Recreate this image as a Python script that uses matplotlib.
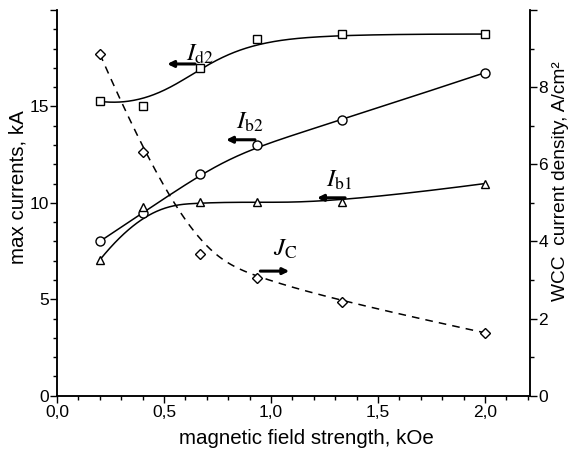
import numpy as np
import matplotlib
matplotlib.use('Agg')
import matplotlib.pyplot as plt
from matplotlib.ticker import MultipleLocator, FuncFormatter

plt.rcParams['font.family'] = ['Liberation Sans', 'DejaVu Sans']
plt.rcParams['mathtext.fontset'] = 'stix'

# data
field = [0.2, 0.4, 0.667, 0.933, 1.333, 2.0]      # kOe
i_d2 = [15.26, 15.0, 17.0, 18.5, 18.75, 18.75]    # kA
i_b2 = [8.0, 9.47, 11.5, 13.0, 14.3, 16.75]       # kA
i_b1 = [7.04, 9.78, 10.03, 10.03, 10.03, 11.0]    # kA
j_c = [8.86, 6.33, 3.67, 3.06, 2.43, 1.63]        # A/cm2


def bspline(x, y, n=300):
    # clamped cubic B-spline with the data points as control points (Origin style line)
    P = np.column_stack([x, y]).astype(float)
    k, p = len(P), 3
    t = np.concatenate([[0] * p, np.arange(k - p + 1), [k - p] * p]).astype(float)
    u = np.linspace(0, k - p, n)
    u[-1] -= 1e-9
    B = ((t[:-1] <= u[:, None]) & (u[:, None] < t[1:])).astype(float)
    for d in range(1, p + 1):
        Bn = np.zeros((n, len(t) - 1 - d))
        for i in range(len(t) - 1 - d):
            if t[i + d] != t[i]:
                Bn[:, i] += (u - t[i]) / (t[i + d] - t[i]) * B[:, i]
            if t[i + d + 1] != t[i + 1]:
                Bn[:, i] += (t[i + d + 1] - u) / (t[i + d + 1] - t[i + 1]) * B[:, i + 1]
        B = Bn
    C = B @ P
    return C[:, 0], C[:, 1]


fig = plt.figure(figsize=(5.69, 4.53), dpi=100)
ax = fig.add_axes([0.1002, 0.1265, 0.8313, 0.8515])
ax2 = ax.twinx()

mk = dict(ls='none', mfc='white', mec='k', mew=1.0, zorder=5)
for y, m, ms in [(i_d2, 's', 6), (i_b2, 'o', 6.5), (i_b1, '^', 6)]:
    xs, ys = bspline(field, y)
    ax.plot(xs, ys, color='k', lw=1.1)
    ax.plot(field, y, marker=m, ms=ms, **mk)

xs, ys = bspline(field, j_c)
ax2.plot(xs, ys, color='k', lw=1.1, ls=(0, (5, 4)))
ax2.plot(field, j_c, marker='D', ms=5.5, **mk)

ax.set_xlim(0, 2.21)
ax.set_ylim(0, 20)
ax2.set_ylim(0, 10)

ax.xaxis.set_major_locator(MultipleLocator(0.5))
ax.xaxis.set_minor_locator(MultipleLocator(0.1))
ax.xaxis.set_major_formatter(FuncFormatter(lambda v, p: ('%.1f' % v).replace('.', ',')))
ax.yaxis.set_major_locator(MultipleLocator(5))
ax.yaxis.set_minor_locator(MultipleLocator(1))
ax.yaxis.set_major_formatter(FuncFormatter(lambda v, p: '' if v >= 20 else '%d' % v))
ax2.yaxis.set_major_locator(MultipleLocator(2))
ax2.yaxis.set_minor_locator(MultipleLocator(1))
ax2.yaxis.set_major_formatter(FuncFormatter(lambda v, p: '' if v >= 10 else '%d' % v))

for a in (ax, ax2):
    a.spines['top'].set_visible(False)
    for s in a.spines.values():
        s.set_linewidth(1.1)
    a.tick_params(which='major', direction='out', length=5, width=1.0, labelsize=12.5, pad=2)
    a.tick_params(which='minor', direction='out', length=3, width=1.0)
ax.tick_params(axis='y', right=False, pad=1)
ax2.tick_params(axis='y', pad=1)

ax.set_xlabel('magnetic field strength, kOe', fontsize=14.8)
ax.set_ylabel('max currents, kA', fontsize=14.8)
ax2.set_ylabel('WCC  current density, A/cm²', fontsize=13.8)
ax.xaxis.set_label_coords(0.527, -0.086)
ax.yaxis.set_label_coords(-0.062, 0.54)
ax2.yaxis.set_label_coords(1.046, 0.557)

# curve labels with arrows pointing to their axes
arr = dict(arrowstyle='-|>', lw=2.2, color='k', mutation_scale=9, shrinkA=0, shrinkB=0)
labels = [(r'$I_{\mathrm{d2}}$', (0.668, 17.7), (0.645, 17.2), (0.515, 17.2)),
          (r'$I_{\mathrm{b2}}$', (0.90, 14.2), (0.925, 13.27), (0.79, 13.27)),
          (r'$I_{\mathrm{b1}}$', (1.32, 11.2), (1.346, 10.26), (1.215, 10.26)),
          (r'$J_{\mathrm{C}}$', (1.065, 7.6), (0.95, 6.46), (1.085, 6.46))]
for txt, pos, tail, head in labels:
    ax.text(pos[0], pos[1], txt, fontsize=18, ha='center', va='center')
    ax.annotate('', xy=head, xytext=tail, arrowprops=arr)

fig.savefig('out.png', dpi=100)
